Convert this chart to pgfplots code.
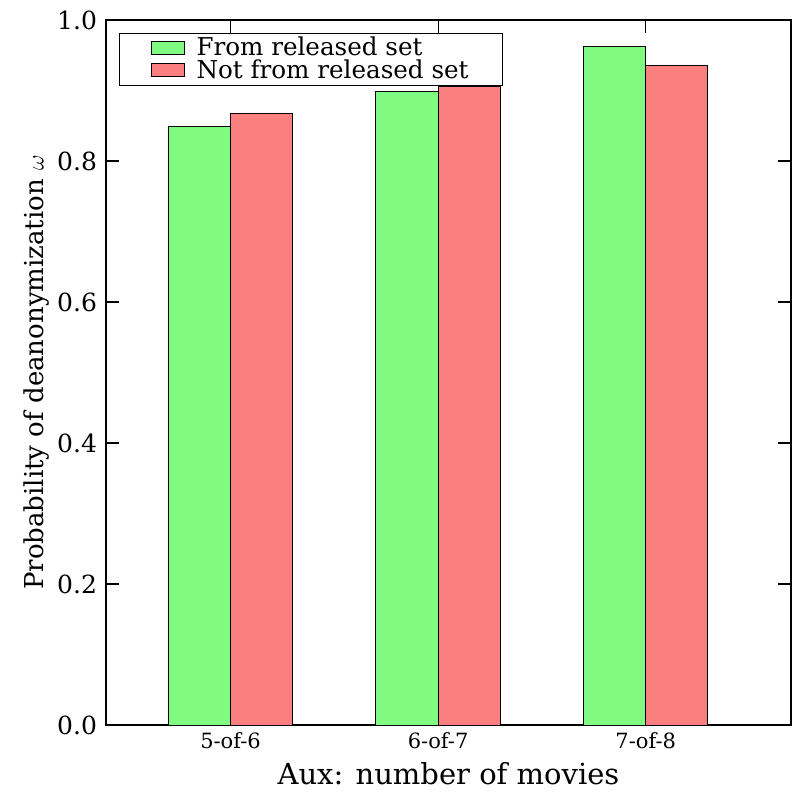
\documentclass[border=0pt]{standalone}
\usepackage{fontspec}
\setmainfont{DejaVu Serif}
\newfontfamily\dvs{DejaVu Serif}
\usepackage{pgfplots}
\pgfplotsset{compat=1.18}

\definecolor{barGreen}{RGB}{128,250,128}
\definecolor{barRed}{RGB}{250,128,128}

\begin{document}
\begin{tikzpicture}
\begin{axis}[
    name=ax,
    width=342.5pt, height=352.5pt,
    scale only axis,
    ybar, bar width=0.3,
    xmin=-0.6, xmax=2.7,
    ymin=0, ymax=1,
    xtick={0,1,2},
    xticklabels={5-of-6,6-of-7,7-of-8},
    ytick={0,0.2,0.4,0.6,0.8,1.0},
    yticklabel style={/pgf/number format/fixed,/pgf/number format/fixed zerofill,
        /pgf/number format/precision=1, font=\dvs\fontsize{12.5}{15}\selectfont, xshift=-1pt},
    xticklabel style={font=\dvs\fontsize{10.5}{12}\selectfont},
    /pgf/number format/assume math mode=true,
    tick align=inside,
    major tick length=6.5pt,
    tick style={black, line width=0.6pt},
    axis line style={line width=1.2pt},
    xlabel={Aux: number of movies},
    ylabel={Probability of deanonymization $\omega$},
    xlabel style={font=\dvs\fontsize{14.5}{16}\selectfont},
    ylabel style={font=\dvs\fontsize{13}{15}\selectfont, yshift=-3pt},
    legend style={at={(0.019,0.982)}, anchor=north west, draw=black, line width=0.5pt,
        font=\dvs\fontsize{12.3}{14}\selectfont, inner xsep=0pt, inner ysep=0pt, row sep=-3.5pt,
        legend cell align=left},
    legend image code/.code={
        \path (0pt,0pt) (36pt,0pt);
        \draw[#1] (15.5pt,-3pt) rectangle (32pt,3.5pt);},
]
\addplot[fill=barGreen, draw=black, line width=0.5pt, bar shift=-0.15] coordinates {
    (0,0.849) (1,0.898) (2,0.962)
};
\addplot[fill=barRed, draw=black, line width=0.5pt, bar shift=0.15] coordinates {
    (0,0.868) (1,0.905) (2,0.935)
};
\legend{From released set, Not from released set\rule{15pt}{0pt}}
\end{axis}
\path (ax.south west) ++(-53pt,-32.5pt) (ax.north east) ++(1.5pt,10pt);
\end{tikzpicture}
\end{document}
